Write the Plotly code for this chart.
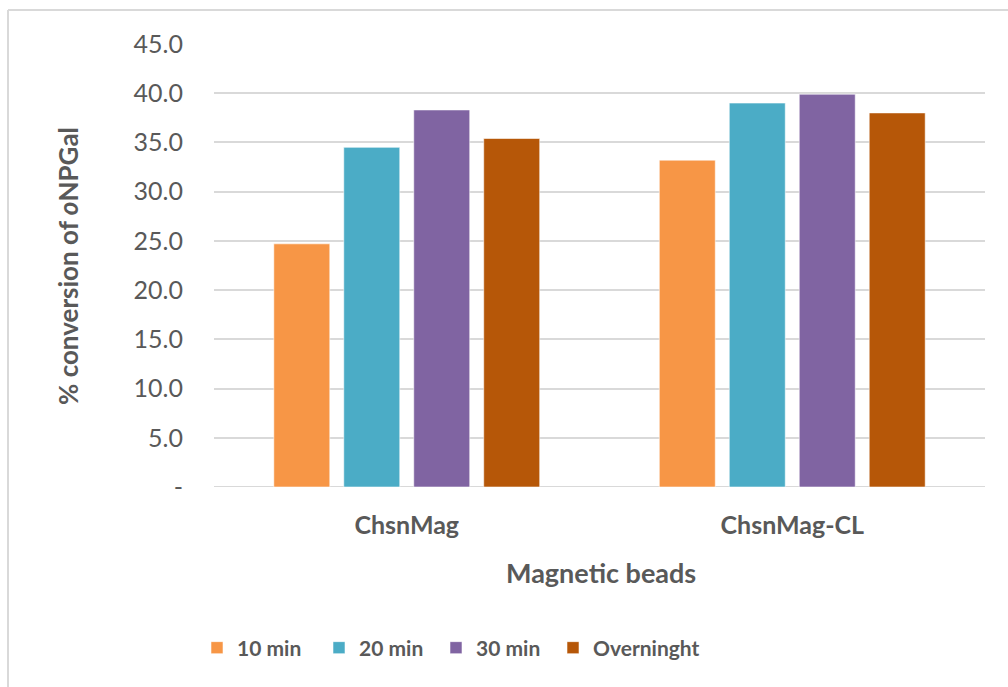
import plotly.graph_objects as go

# Conversion of oNPGal by chitosan magnetic beads at different reaction times
categories = ["ChsnMag", "ChsnMag-CL"]
series_names = ["10 min", "20 min", "30 min", "Overninght"]
values_10min = [24.7, 33.2]
values_20min = [34.5, 39.0]
values_30min = [38.3, 39.9]
values_overnight = [35.4, 38.0]
y_tick_vals = [0, 5, 10, 15, 20, 25, 30, 35, 40, 45]
y_tick_text = ["-", "5.0", "10.0", "15.0", "20.0", "25.0", "30.0", "35.0", "40.0", "45.0"]

colors = ["#F79646", "#4BACC6", "#8064A2", "#B65708"]
series_values = [values_10min, values_20min, values_30min, values_overnight]

W, H = 1008, 687
L, R, T, B = 214, 23, 44, 200
pw, ph = W - L - R, H - T - B

FONT = "Lato"
GREY = "#595959"

def px_x(px):
    return (px - L) / pw

def px_y(py):
    return 1 - (py - T) / ph

# one legend box per series so the entries can be spaced evenly
legend_ids = ["legend", "legend2", "legend3", "legend4"]
legend_left_px = [197, 319, 436, 553]

fig = go.Figure()
for name, vals, col, lid in zip(series_names, series_values, colors, legend_ids):
    fig.add_trace(go.Bar(
        x=categories, y=vals, name=name, legend=lid,
        marker=dict(color=col, line=dict(color="rgba(255,255,255,0.55)", width=1)),
    ))

legend_style = dict(
    orientation="h", xanchor="left", y=px_y(648), yanchor="middle",
    font=dict(family=FONT, size=21, color=GREY, weight="bold"),
    itemwidth=30, bgcolor="rgba(0,0,0,0)",
)
legend_layout = {
    lid: dict(legend_style, x=px_x(lx))
    for lid, lx in zip(legend_ids, legend_left_px)
}

fig.update_layout(
    width=W, height=H,
    margin=dict(l=L, r=R, t=T, b=B),
    paper_bgcolor="white", plot_bgcolor="white",
    barmode="group", bargap=0.274, bargroupgap=0.2,
    font=dict(family=FONT, color=GREY),
    showlegend=True,
    **legend_layout,
    xaxis=dict(
        showgrid=False, showline=False, zeroline=False,
        tickfont=dict(family=FONT, size=25, color=GREY, weight="bold"),
        ticks="", ticklabelstandoff=21,
    ),
    yaxis=dict(
        range=[0, 45], tickvals=y_tick_vals, ticktext=y_tick_text,
        showgrid=True, gridcolor="#D9D9D9", gridwidth=2,
        zeroline=False, showline=False, ticks="",
        tickfont=dict(family=FONT, size=25, color=GREY),
        ticklabelstandoff=30,
    ),
    annotations=[
        dict(text="% conversion of <i>o</i>NPGal", textangle=-90,
             xref="paper", yref="paper", x=px_x(68), y=px_y(266),
             xanchor="center", yanchor="middle", showarrow=False,
             font=dict(family=FONT, size=26, color=GREY, weight="bold")),
        dict(text="Magnetic beads",
             xref="paper", yref="paper", x=px_x(601), y=px_y(572),
             xanchor="center", yanchor="middle", showarrow=False,
             font=dict(family=FONT, size=27, color=GREY, weight="bold")),
    ],
    shapes=[
        # chart frame (left and top edges)
        dict(type="line", xref="paper", yref="paper",
             x0=px_x(8), x1=px_x(8), y0=px_y(10), y1=px_y(687),
             line=dict(color="#D9D9D9", width=2)),
        dict(type="line", xref="paper", yref="paper",
             x0=px_x(8), x1=px_x(1010), y0=px_y(10), y1=px_y(10),
             line=dict(color="#D9D9D9", width=2)),
        # category axis baseline
        dict(type="line", xref="paper", yref="y",
             x0=0, x1=1, y0=0, y1=0,
             line=dict(color="#D9D9D9", width=2), layer="below"),
    ],
)

fig.write_html("out.html")
